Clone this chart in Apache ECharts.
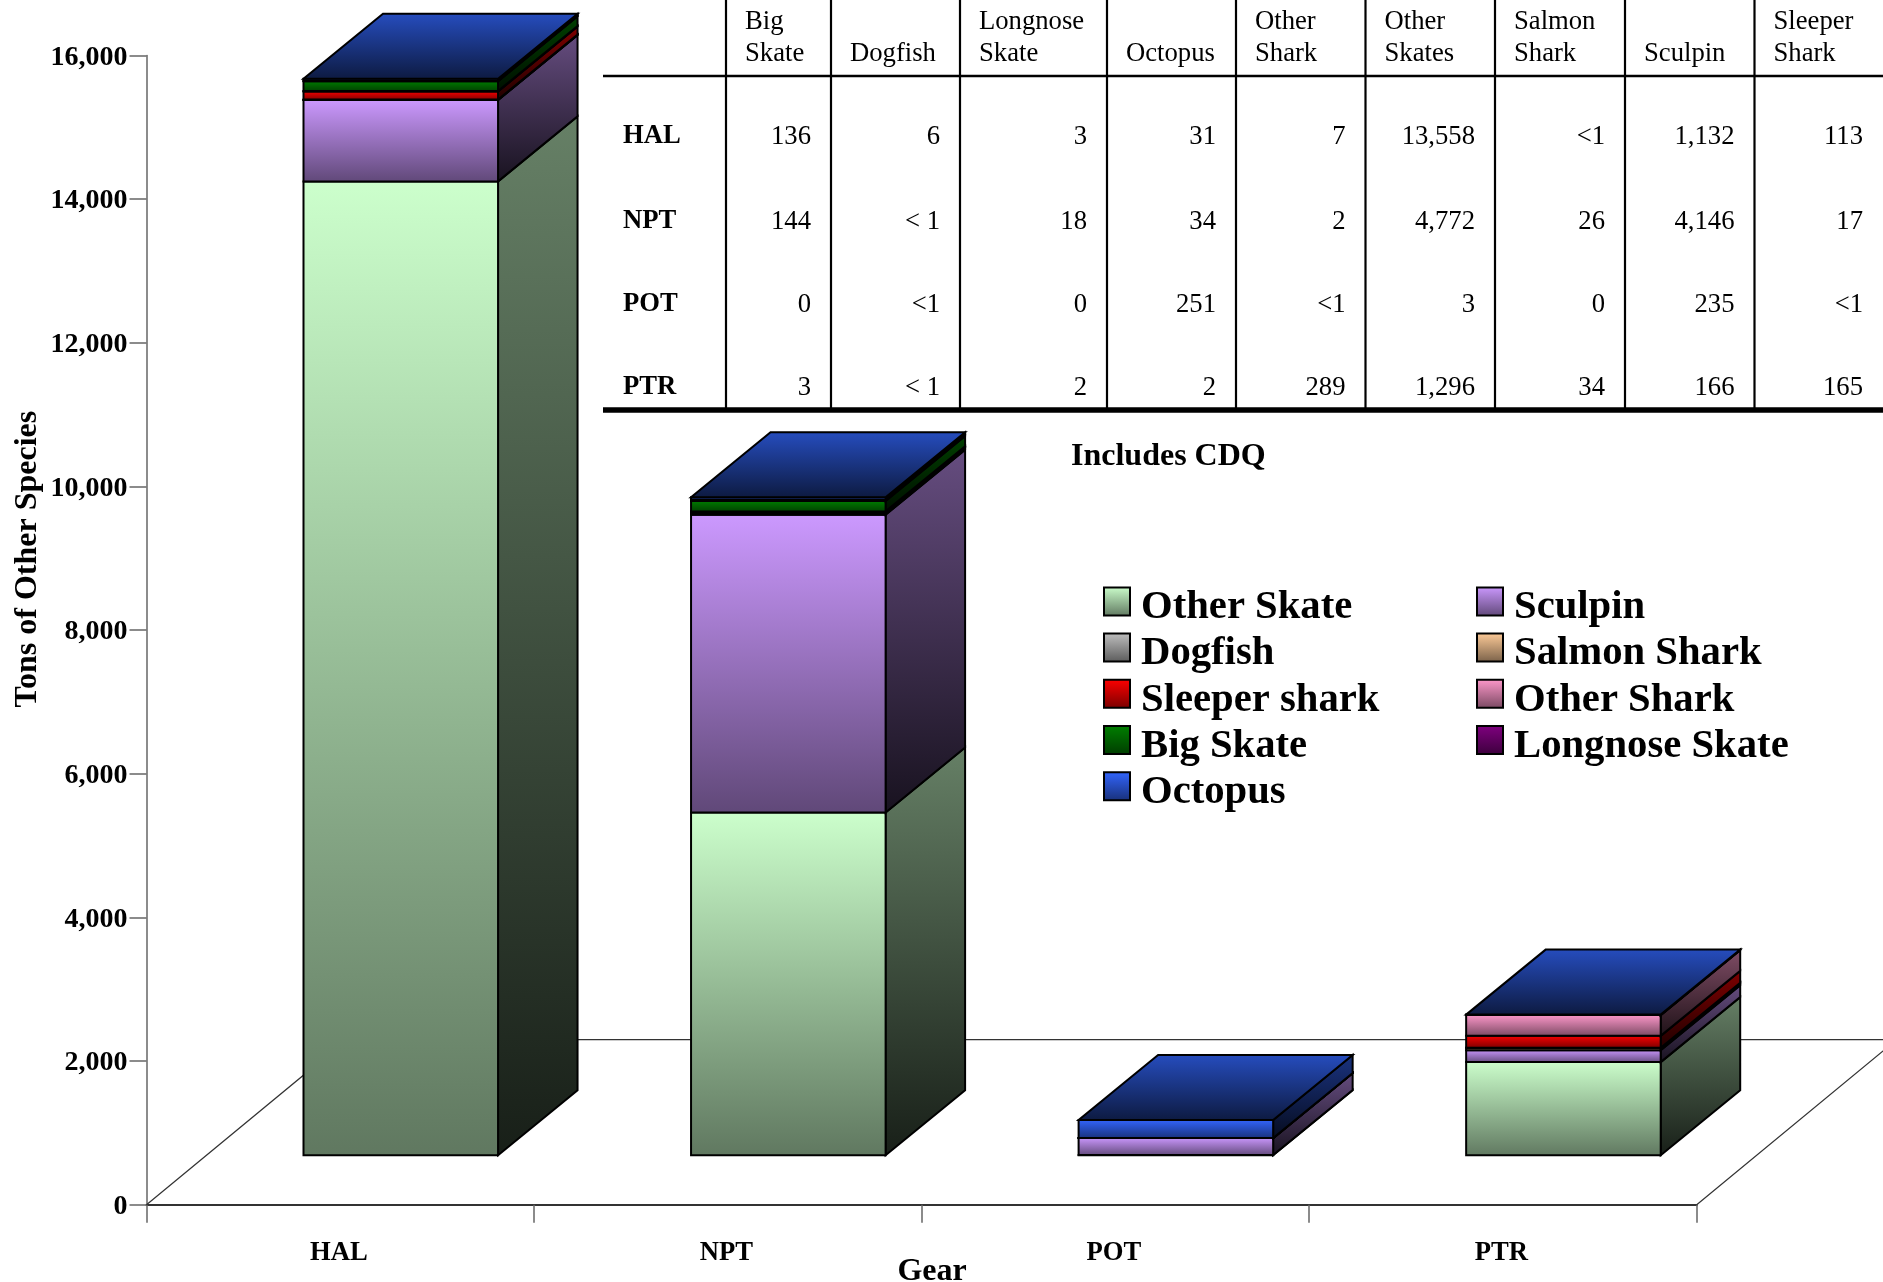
<!DOCTYPE html>
<html><head><meta charset="utf-8">
<style>html,body{margin:0;padding:0;background:#fff}#c{width:1883px;height:1282px}</style>
<script src="https://cdn.jsdelivr.net/npm/echarts@6/dist/echarts.min.js"></script>
</head><body><div id="c"></div>
<script>
// ---- data ----
const categories = ['HAL', 'NPT', 'POT', 'PTR'];
const yTicks = { min: 0, max: 16000, interval: 2000 };
// stacked values (tons); "<1" entries are taken as 0.5
const otherSkate    = [13558, 4772, 3, 1296];
const sculpin       = [1132, 4146, 235, 166];
const salmonShark   = [0.5, 26, 0, 34];
const dogfish       = [6, 0.5, 0.5, 0.5];
const sleeperShark  = [113, 17, 0.5, 165];
const otherShark    = [7, 2, 0.5, 289];
const bigSkate      = [136, 144, 0, 3];
const longnoseSkate = [3, 18, 0, 2];
const octopus       = [31, 34, 251, 2];
// table
const tableHeaders = [['Big', 'Skate'], ['', 'Dogfish'], ['Longnose', 'Skate'], ['', 'Octopus'], ['Other', 'Shark'], ['Other', 'Skates'], ['Salmon', 'Shark'], ['', 'Sculpin'], ['Sleeper', 'Shark']];
const tableHAL = ['136', '6', '3', '31', '7', '13,558', '<1', '1,132', '113'];
const tableNPT = ['144', '< 1', '18', '34', '2', '4,772', '26', '4,146', '17'];
const tablePOT = ['0', '<1', '0', '251', '<1', '3', '0', '235', '<1'];
const tablePTR = ['3', '< 1', '2', '2', '289', '1,296', '34', '166', '165'];
const tableRows = [tableHAL, tableNPT, tablePOT, tablePTR];
const noteText = 'Includes CDQ';

// ---- styles ----
const stackOrder = [
  ['Other Skate', otherSkate, [204, 255, 204]],
  ['Sculpin', sculpin, [204, 153, 255]],
  ['Salmon Shark', salmonShark, [255, 204, 153]],
  ['Dogfish', dogfish, [192, 192, 192]],
  ['Sleeper shark', sleeperShark, [255, 0, 0]],
  ['Other Shark', otherShark, [255, 153, 204]],
  ['Big Skate', bigSkate, [0, 128, 0]],
  ['Longnose Skate', longnoseSkate, [128, 0, 128]],
  ['Octopus', octopus, [51, 102, 255]]
];
const legendCol1 = ['Other Skate', 'Dogfish', 'Sleeper shark', 'Big Skate', 'Octopus'];
const legendCol2 = ['Sculpin', 'Salmon Shark', 'Other Shark', 'Longnose Skate'];
const FONT = '"Liberation Serif","Times New Roman",serif';
const rgb = (c, k) => `rgb(${Math.round(c[0] * k)},${Math.round(c[1] * k)},${Math.round(c[2] * k)})`;
const grad = (c, k1, k2) => ({ type: 'linear', x: 0, y: 0, x2: 0, y2: 1, colorStops: [{ offset: 0, color: rgb(c, k1) }, { offset: 1, color: rgb(c, k2) }] });
const BAR_RATIO = 0.502, FRONT_DX = 60.5, FRONT_DY = 49.5, DEPTH_DX = 79.5, DEPTH_DY = 65, FLOOR_DX = 200, FLOOR_DY = 165;

function seriesFor(entry, sIdx) {
  const [name, values, color] = entry;
  const data = values.map((v, i) => {
    let base = 0;
    for (let k = 0; k < sIdx; k++) base += stackOrder[k][1][i];
    return [i, base, base + v];
  });
  const isTop = sIdx === stackOrder.length - 1;
  return {
    type: 'custom', name, data, coordinateSystem: 'cartesian2d', clip: false, z: 5 + sIdx,
    encode: { x: 0, y: [1, 2] }, itemStyle: { color: rgb(color, 1) },
    renderItem(params, api) {
      const b = api.value(1), t = api.value(2);
      if (t <= b) return null;
      const pb = api.coord([api.value(0), b]), pt = api.coord([api.value(0), t]);
      const w = api.size([1, 0])[0] * BAR_RATIO;
      const x0 = pb[0] + FRONT_DX - w / 2, x1 = x0 + w;
      const yb = pb[1] - FRONT_DY, yt = pt[1] - FRONT_DY;
      const stroke = { stroke: '#000', lineWidth: 2, lineJoin: 'miter' };
      const poly = (points, fill) => ({ type: 'polygon', shape: { points }, style: Object.assign({ fill }, stroke) });
      const kids = [
        poly([[x1, yb], [x1 + DEPTH_DX, yb - DEPTH_DY], [x1 + DEPTH_DX, yt - DEPTH_DY], [x1, yt]], grad(color, 0.5, 0.12)),
        poly([[x0, yb], [x1, yb], [x1, yt], [x0, yt]], grad(color, 1, 0.47))
      ];
      if (isTop) kids.push(poly([[x0, yt], [x1, yt], [x1 + DEPTH_DX, yt - DEPTH_DY], [x0 + DEPTH_DX, yt - DEPTH_DY]], grad(color, 0.75, 0.25)));
      return { type: 'group', children: kids };
    }
  };
}

const floorSeries = {
  type: 'custom', name: 'floor', data: [[0, 0]], clip: false, z: 1, silent: true,
  encode: { x: 0, y: 1 }, tooltip: { show: false },
  renderItem(params, api) {
    const size = api.size([1, 0])[0];
    const o = api.coord([0, 0]);
    const l = o[0] - size / 2, r = l + size * categories.length, y = o[1];
    return {
      type: 'polyline', shape: { points: [[l, y], [l + FLOOR_DX, y - FLOOR_DY], [r + FLOOR_DX, y - FLOOR_DY], [r, y]] },
      style: { fill: null, stroke: '#333', lineWidth: 1.2 }
    };
  }
};

function legendFor(names, left) {
  return {
    orient: 'vertical', left, top: 586.4, padding: 0, itemWidth: 26, itemHeight: 28, itemGap: 4.4,
    selectedMode: false, icon: 'rect',
    formatter: n => `{a|${n}}`,
    textStyle: { color: '#000', rich: { a: { fontFamily: FONT, fontWeight: 'bold', fontSize: 40.7, color: '#000', padding: [12.6, 0, 0, 6] } } },
    data: names.map(n => {
      const c = stackOrder.find(e => e[0] === n)[2];
      return { name: n, icon: 'rect', itemStyle: { color: grad(c, 1, 0.47), borderColor: '#000', borderWidth: 2 } };
    })
  };
}

// table drawn as graphic elements
const colLines = [726, 831, 960, 1107, 1236, 1365.5, 1495, 1625, 1754.5];
const colRights = colLines.slice(1).concat([1883]);
const rowY = [136.5, 221.5, 304.5, 387.5];
const tableEls = [];
const hline = (y, lw) => tableEls.push({ type: 'line', shape: { x1: 603, y1: y, x2: 1883, y2: y }, style: { stroke: '#000', lineWidth: lw } });
colLines.forEach(x => tableEls.push({ type: 'line', shape: { x1: x, y1: 0, x2: x, y2: 410 }, style: { stroke: '#000', lineWidth: 2.2 } }));
hline(76, 2.4); hline(410, 5.5);
const tableText = (text, x, y, align, bold, size) => tableEls.push({ type: 'text', x, y, style: { text, align, verticalAlign: 'middle', fill: '#000', font: `${bold ? 'bold ' : ''}${size || 26.67}px ${FONT}` } });
tableHeaders.forEach((h, c) => { if (h[0]) tableText(h[0], colLines[c] + 19, 21.5, 'left'); tableText(h[1], colLines[c] + 19, 53.5, 'left'); });
categories.forEach((cat, r) => {
  tableText(cat, 623, rowY[r], 'left', true);
  tableRows[r].forEach((v, c) => tableText(v, colRights[c] - 20, rowY[r], 'right'));
});
tableText(noteText, 1071, 457, 'left', true, 32);

const option = {
  animation: false, backgroundColor: '#fff',
  grid: { left: 146.5, top: 55.5, width: 1550.2, height: 1149.2, containLabel: false, outerBoundsMode: 'none' },
  xAxis: {
    type: 'category', data: categories, name: 'Gear', nameLocation: 'middle', nameGap: 51, nameMoveOverlap: false,
    nameTextStyle: { fontFamily: FONT, fontWeight: 'bold', fontSize: 32, color: '#000', padding: [0, 0, 0, 21] },
    axisLine: { lineStyle: { color: '#333', width: 2 } },
    axisTick: { show: true, length: 18, alignWithLabel: false, lineStyle: { color: '#666', width: 1.5 } },
    axisLabel: { fontFamily: FONT, fontWeight: 'bold', fontSize: 26.67, color: '#000', margin: 35, padding: [0, 3, 0, 0] }
  },
  yAxis: {
    type: 'value', min: yTicks.min, max: yTicks.max, interval: yTicks.interval,
    name: 'Tons of Other Species', nameLocation: 'middle', nameGap: 103, nameMoveOverlap: false,
    nameTextStyle: { fontFamily: FONT, fontWeight: 'bold', fontSize: 32, color: '#000', padding: [0, 0, 0, 142] },
    axisLine: { show: true, lineStyle: { color: '#666', width: 1.5 } },
    axisTick: { show: true, length: 17, lineStyle: { color: '#666', width: 1.5 } },
    splitLine: { show: false },
    axisLabel: { color: '#000', margin: 19, formatter: v => `{a|${v.toLocaleString('en-US')}}`,
      rich: { a: { fontFamily: FONT, fontWeight: 'bold', fontSize: 28, color: '#000', padding: [4, 0, 0, 0] } } }
  },
  legend: [legendFor(legendCol1, 1103), legendFor(legendCol2, 1476)],
  series: [floorSeries].concat(stackOrder.map(seriesFor)),
  graphic: { elements: tableEls }
};
echarts.init(document.getElementById('c'), null, { renderer: 'canvas' }).setOption(option);
</script></body></html>
